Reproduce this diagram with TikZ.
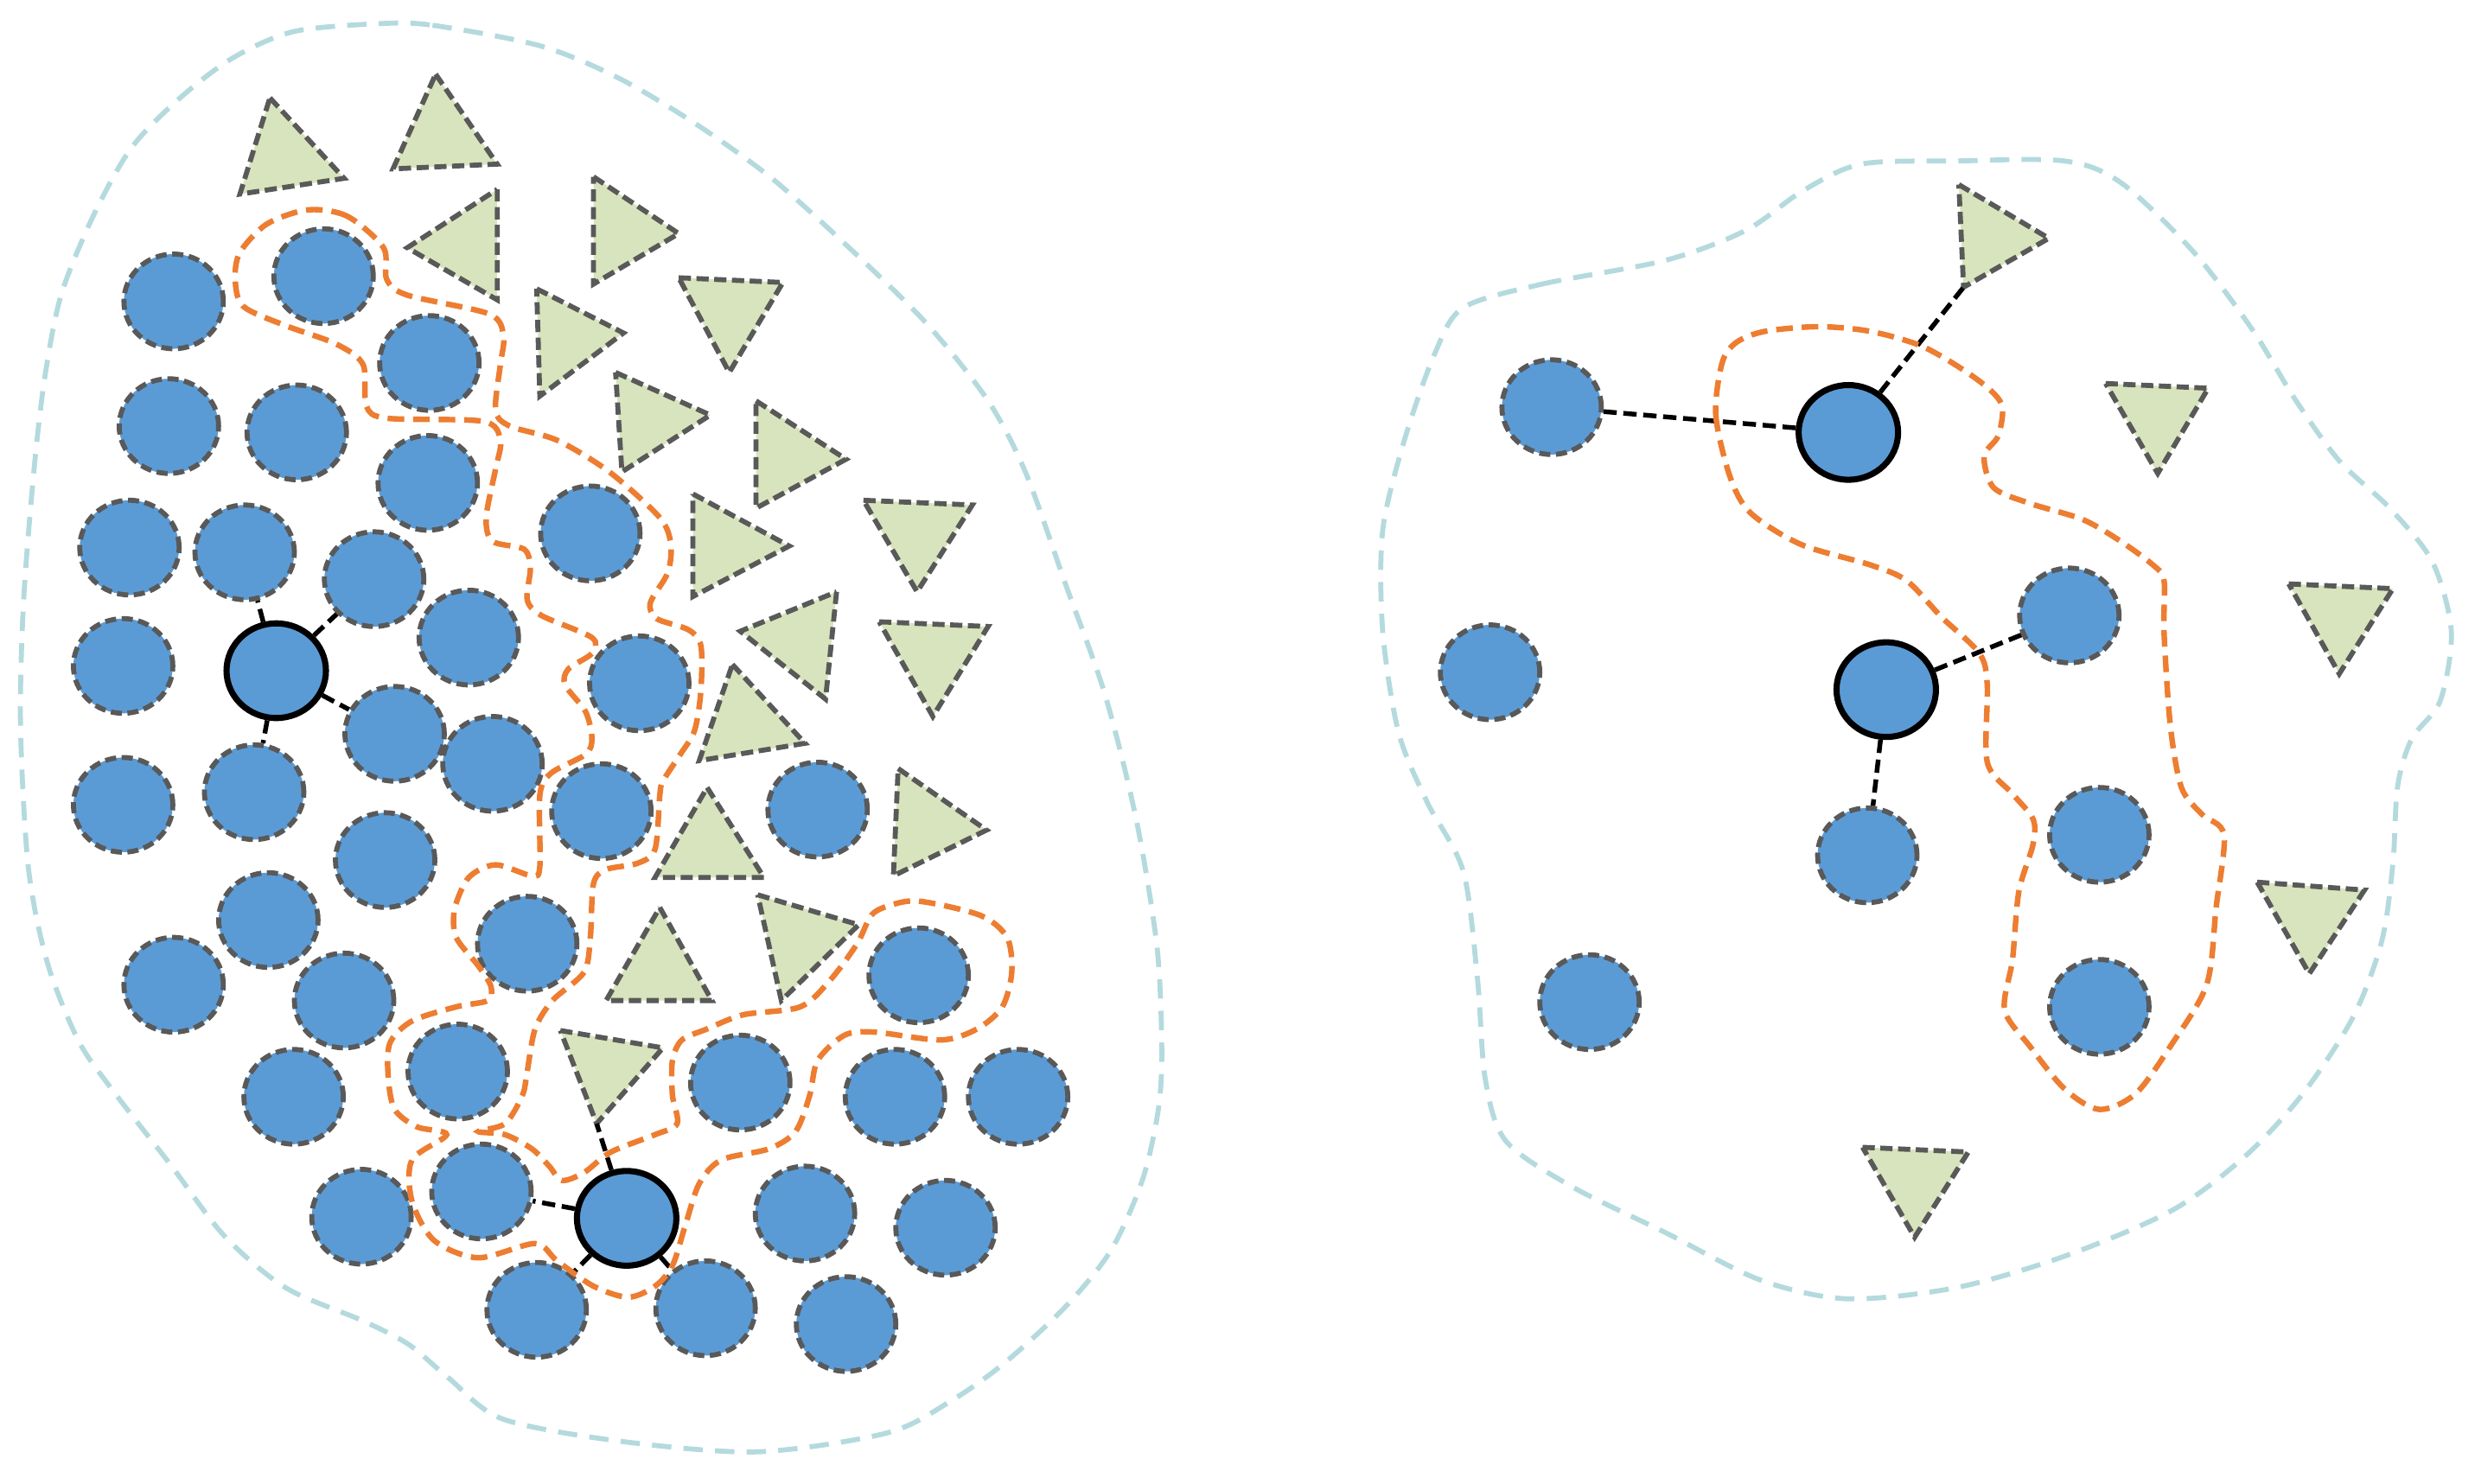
\documentclass[tikz,border=0pt]{standalone}
\usepackage{xcolor}
\definecolor{PtBlue}{HTML}{5B9BD5}
\definecolor{PtEdge}{HTML}{595959}
\definecolor{TriGreen}{HTML}{D7E4BD}
\definecolor{HullOrange}{HTML}{ED7D31}
\definecolor{ZoneBlue}{HTML}{B4DADE}
\usetikzlibrary{shapes.geometric}

\begin{document}
\begin{tikzpicture}[
  x=0.1mm, y=-0.1mm,
  pt/.style={
    ellipse, draw=PtEdge, fill=PtBlue,
    line width=0.9pt, dash pattern=on 2pt off 1pt,
    minimum width=6.3mm, minimum height=6mm, inner sep=0pt
  },
  core/.style={pt, draw=black, solid, line width=1.1pt},
  tri/.style={draw=PtEdge, fill=TriGreen, line width=0.9pt, dash pattern=on 2.2pt off 1pt},
  link/.style={black, line width=0.85pt, dash pattern=on 2.4pt off 1.2pt},
  hull/.style={HullOrange, line width=1pt, dash pattern=on 3pt off 1.6pt},
  zone/.style={ZoneBlue, line width=0.9pt, dash pattern=on 3.5pt off 2.2pt},
]
\useasboundingbox (0,0) rectangle (1568,940);

% outer regions
\draw[zone] plot[smooth cycle] coordinates {
  (240,15) (274,16) (342,29) (391,49) (440,78) (489,113) (538,157) (587,205)
  (626,254) (650,300) (675,370) (700,440) (720,520) (733,600) (736,663) (734,702)
  (724,747) (704,792) (675,828) (636,864) (602,888) (562,908) (479,920) (391,913)
  (318,899) (284,873) (259,852) (230,837) (181,816) (142,783) (108,738) (73,693)
  (50,660) (30,610) (18,550) (13,460) (15,380) (22,293) (29,235) (39,186)
  (59,137) (83,94) (113,63) (147,37) (186,20)};
\draw[zone] plot[smooth cycle] coordinates {
  (927,195) (977,180) (1055,165) (1106,146) (1142,121) (1179,104) (1239,102) (1308,102)
  (1344,116) (1390,160) (1427,209) (1454,253) (1482,292) (1514,322) (1541,356) (1553,400)
  (1546,444) (1528,468) (1519,498) (1516,547) (1509,596) (1491,644) (1459,693) (1422,733)
  (1376,767) (1308,796) (1239,816) (1170,823) (1115,811) (1055,781) (996,752) (954,723)
  (941,684) (936,620) (927,552) (904,508) (886,464) (876,400) (876,336) (890,278) (909,224)};

% triangles, left
\draw[tri] (171,62) -- (218,113) -- (152,123) -- cycle;
\draw[tri] (276,47) -- (315,104) -- (249,107) -- cycle;
\draw[tri] (315,120) -- (315,190) -- (258,157) -- cycle;
\draw[tri] (376,112) -- (430,148) -- (376,180) -- cycle;
\draw[tri] (430,176) -- (496,179) -- (462,236) -- cycle;
\draw[tri] (340,183) -- (395,211) -- (342,251) -- cycle;
\draw[tri] (390,236) -- (450,263) -- (394,299) -- cycle;
\draw[tri] (479,254) -- (536,291) -- (479,322) -- cycle;
\draw[tri] (439,313) -- (500,346) -- (439,378) -- cycle;
\draw[tri] (547,317) -- (616,320) -- (581,375) -- cycle;
\draw[tri] (530,375) -- (523,443) -- (469,400) -- cycle;
\draw[tri] (557,394) -- (626,397) -- (591,454) -- cycle;
\draw[tri] (464,421) -- (510,471) -- (443,482) -- cycle;
\draw[tri] (569,487) -- (625,526) -- (566,555) -- cycle;
\draw[tri] (448,499) -- (484,556) -- (415,556) -- cycle;
\draw[tri] (418,575) -- (451,634) -- (384,634) -- cycle;
\draw[tri] (480,567) -- (544,586) -- (495,634) -- cycle;
\draw[tri] (355,653) -- (420,664) -- (378,712) -- cycle;
\coordinate (ta18) at (378,712);

% triangles, right
\draw[tri] (1241,117) -- (1298,151) -- (1244,182) -- cycle;
\coordinate (tb1) at (1244,182);
\draw[tri] (1334,243) -- (1399,246) -- (1367,300) -- cycle;
\draw[tri] (1450,370) -- (1516,373) -- (1482,427) -- cycle;
\draw[tri] (1430,559) -- (1498,564) -- (1463,617) -- cycle;
\draw[tri] (1180,727) -- (1247,730) -- (1213,784) -- cycle;

% points, left
\node[pt] (a1) at (110,191) {};
\node[pt] (a2) at (205,175) {};
\node[pt] (a3) at (272,230) {};
\node[pt] (a4) at (107,270) {};
\node[pt] (a5) at (188,274) {};
\node[pt] (a6) at (271,306) {};
\node[pt] (a7) at (82,347) {};
\node[pt] (a8) at (155,350) {};
\node[pt] (a9) at (237,367) {};
\node[pt] (a10) at (374,338) {};
\node[pt] (a11) at (78,422) {};
\node[core] (a12) at (175,425) {};
\node[pt] (a13) at (297,404) {};
\node[pt] (a14) at (405,433) {};
\node[pt] (a15) at (250,465) {};
\node[pt] (a16) at (312,484) {};
\node[pt] (a17) at (78,510) {};
\node[pt] (a18) at (161,502) {};
\node[pt] (a19) at (381,514) {};
\node[pt] (a20) at (518,513) {};
\node[pt] (a21) at (244,545) {};
\node[pt] (a22) at (170,583) {};
\node[pt] (a23) at (334,598) {};
\node[pt] (a24) at (110,624) {};
\node[pt] (a25) at (218,634) {};
\node[pt] (a26) at (582,618) {};
\node[pt] (a27) at (290,679) {};
\node[pt] (a28) at (186,695) {};
\node[pt] (a29) at (469,686) {};
\node[pt] (a30) at (567,695) {};
\node[pt] (a31) at (645,695) {};
\node[pt] (a32) at (229,771) {};
\node[pt] (a33) at (305,755) {};
\node[core] (a34) at (397,772) {};
\node[pt] (a35) at (510,769) {};
\node[pt] (a36) at (599,778) {};
\node[pt] (a37) at (340,830) {};
\node[pt] (a38) at (447,829) {};
\node[pt] (a39) at (536,839) {};

% points, right
\node[pt] (b1) at (983,258) {};
\node[core] (b2) at (1171,274) {};
\node[pt] (b3) at (944,426) {};
\node[pt] (b4) at (1311,390) {};
\node[core] (b5) at (1195,437) {};
\node[pt] (b6) at (1183,542) {};
\node[pt] (b7) at (1330,529) {};
\node[pt] (b8) at (1007,635) {};
\node[pt] (b9) at (1330,638) {};

% neighbour links
\draw[link] (a12) -- (a8);
\draw[link] (a12) -- (a9);
\draw[link] (a12) -- (a15);
\draw[link] (a12) -- (a18);
\draw[link] (a34) -- (a33);
\draw[link] (a34) -- (ta18);
\draw[link] (a34) -- (a37);
\draw[link] (a34) -- (a38);
\draw[link] (b2) -- (b1);
\draw[link] (b2) -- (tb1);
\draw[link] (b5) -- (b4);
\draw[link] (b5) -- (b6);

% cluster hulls
\draw[hull] plot[smooth cycle] coordinates {
  (243,157) (220,137) (195,133) (169,142) (152,160) (149,177) (154,194) (180,206)
  (213,218) (230,231) (232,257) (245,265) (306,267) (317,279) (314,297) (308,328)
  (312,343) (332,348) (336,360) (334,380) (343,390) (375,404) (375,414) (360,424)
  (358,434) (371,451) (375,468) (371,478) (349,490) (342,504) (342,549) (337,555)
  (314,548) (297,556) (288,576) (289,594) (303,612) (311,625) (309,634) (289,638)
  (261,647) (247,661) (246,683) (250,703) (264,714) (283,719) (261,735) (261,761)
  (275,786) (303,797) (339,788) (353,799) (376,815) (398,822) (415,815) (426,802)
  (434,777) (443,750) (457,735) (487,728) (504,717) (513,694) (518,672) (535,656)
  (554,654) (596,659) (619,652) (635,638) (641,616) (638,594) (621,580) (582,571)
  (563,574) (552,580) (543,598) (526,621) (507,638) (471,643) (448,652) (432,659)
  (426,672) (426,694) (429,712) (415,719) (387,730) (370,743) (356,748) (348,739)
  (337,728) (320,719) (303,717) (320,712) (331,694) (334,679) (339,652) (350,634)
  (370,616) (374,594) (376,560) (384,551) (404,547) (415,538) (418,504) (420,495)
  (431,478) (440,463) (444,438) (444,409) (436,399) (416,392) (412,382) (423,363)
  (425,345) (418,328) (386,299) (353,279) (323,270) (314,260) (317,231) (319,213)
  (310,199) (258,187) (245,177)};
\draw[hull] plot[smooth cycle] coordinates {
  (1091,230) (1087,263) (1096,302) (1109,325) (1141,345) (1185,358) (1208,368) (1230,391)
  (1254,414) (1259,434) (1259,483) (1275,503) (1288,519) (1288,535) (1279,565) (1275,608)
  (1270,640) (1286,663) (1308,690) (1330,703) (1353,693) (1375,663) (1398,624) (1404,575)
  (1409,529) (1395,516) (1382,499) (1375,460) (1371,401) (1371,368) (1364,358) (1342,342)
  (1319,329) (1286,319) (1263,309) (1257,289) (1266,276) (1268,256) (1252,240) (1219,220)
  (1185,210) (1152,207) (1118,210) (1100,217)};

\end{tikzpicture}
\end{document}
